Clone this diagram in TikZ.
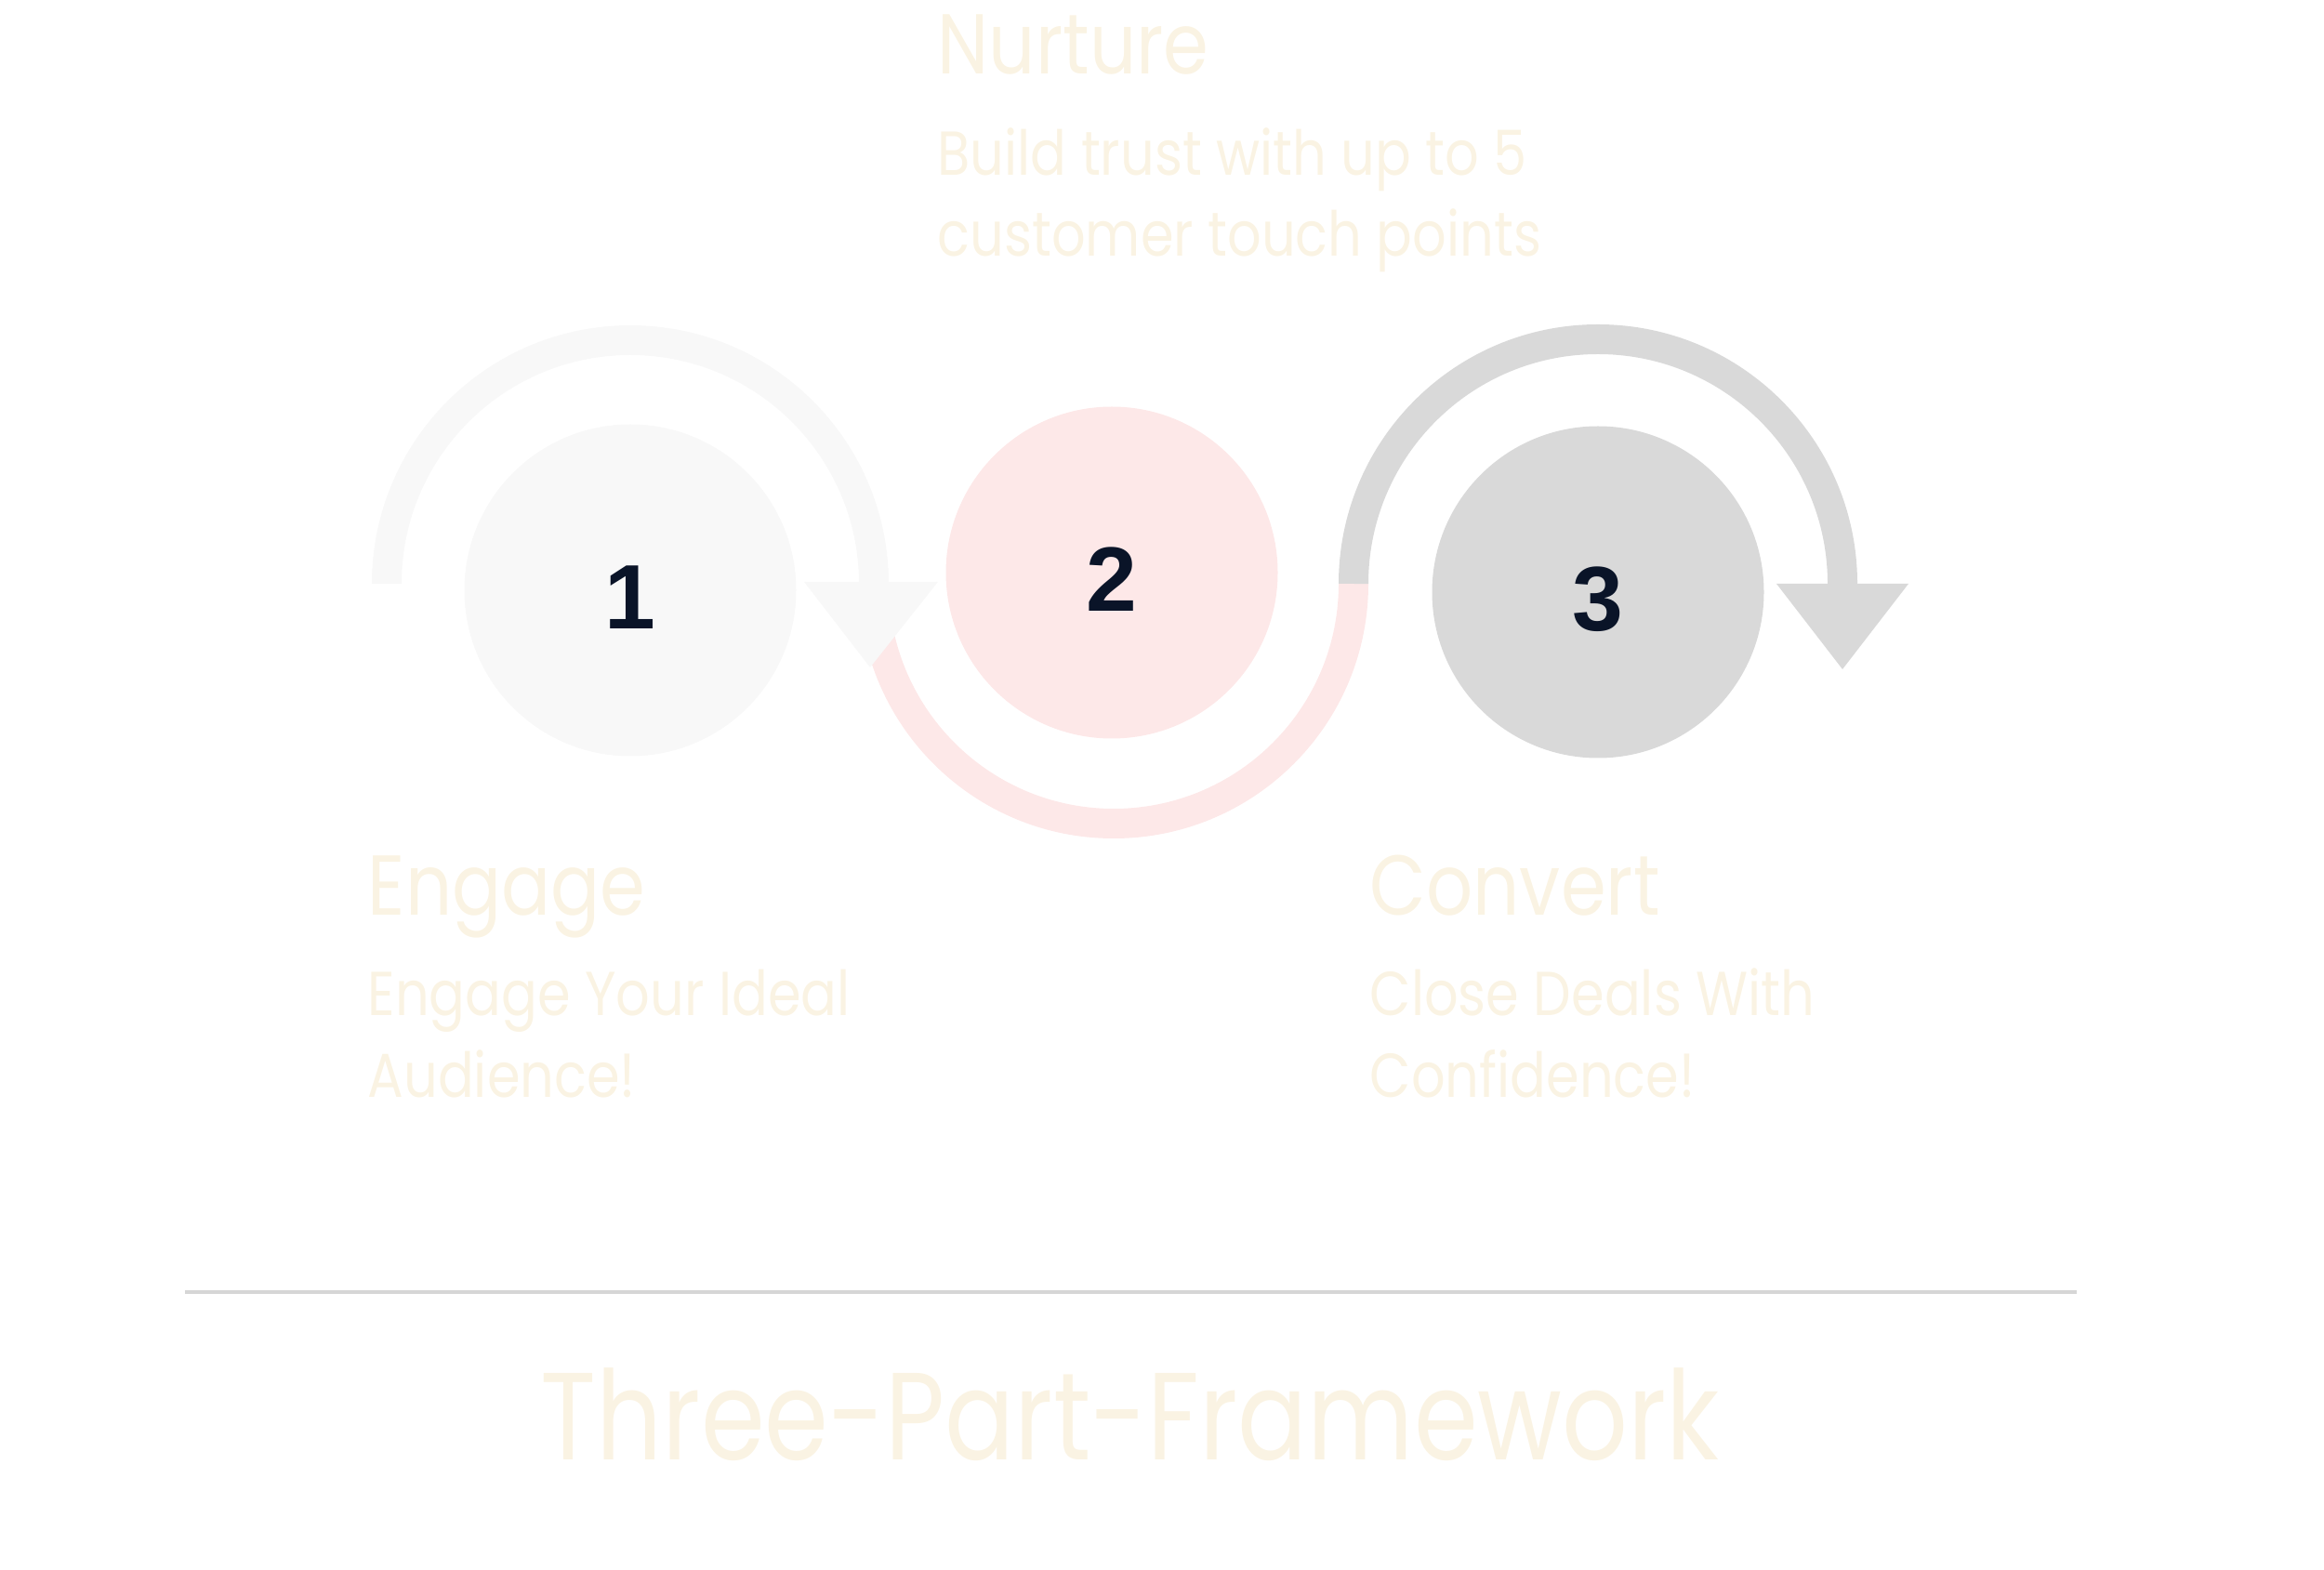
\documentclass[tikz,border=0pt]{standalone}
\usepackage{fontspec}
\setmainfont{Poppins}[FakeStretch=0.86]
\newfontfamily\bannerfont{Poppins}[FakeStretch=0.83]
\newfontfamily\numfont{Liberation Sans}
\usetikzlibrary{calc}
\definecolor{cream}{HTML}{FAF3E3}
\definecolor{engagegrey}{HTML}{F8F8F8}
\definecolor{nurturepink}{HTML}{FDE8E8}
\definecolor{convertgrey}{HTML}{D9D9D9}
\definecolor{numnavy}{HTML}{0A1428}
\definecolor{rulegrey}{HTML}{D6D6D6}

\begin{document}
\begin{tikzpicture}[
    disc/.style={circle, minimum size=3.57cm, inner sep=0pt, text height=0.83cm, text depth=0pt, text=numnavy, font=\numfont\bfseries\fontsize{28}{28}\selectfont},
    band/.style={line width=0.32cm},
    heading/.style={anchor=base west, inner sep=0pt, text=cream, font=\fontsize{26}{30}\selectfont},
    blurb/.style={anchor=base west, inner sep=0pt, text=cream, align=left, font=\fontsize{19}{25}\selectfont},
    banner/.style={anchor=base, inner sep=0pt, text=cream, font=\bannerfont\fontsize{38}{44}\selectfont}
  ]
  \useasboundingbox (0,0) rectangle (25,16.88);

  \coordinate (e0) at (4.16,10.60);
  \coordinate (e1) at (9.40,10.60);
  \coordinate (c0) at (14.56,10.60);
  \coordinate (c1) at (19.82,10.60);

  \draw[band, nurturepink] (e1) arc[start angle=180, end angle=360, radius=2.58] -- (c0);
  \draw[band, engagegrey] (e0) arc[start angle=180, end angle=0, radius=2.62];
  \fill[engagegrey] ($(e1)+(-0.75,0.02)$) -- ($(e1)+(0.69,0.02)$) -- ($(e1)+(-0.04,-0.90)$) -- cycle;
  \draw[band, convertgrey] (c0) arc[start angle=180, end angle=0, radius=2.63];
  \fill[convertgrey] ($(c1)+(-0.71,0)$) -- ($(c1)+(0.71,0)$) -- ($(c1)+(0,-0.92)$) -- cycle;

  \node[disc, fill=engagegrey] (one) at (6.78,10.53) {1};
  \node[disc, fill=nurturepink] (two) at (11.96,10.72) {2};
  \node[disc, fill=convertgrey] (three) at (17.19,10.51) {3};

  \node[heading] (nurture) at (10.08,16.08) {Nurture};
  \node[blurb] (nurturetxt) at (10.08,14.12) {Build trust with up to 5\\customer touch points};
  \node[heading] (engage) at (3.95,7.04) {Engage};
  \node[blurb] (engagetxt) at (3.95,5.08) {Engage Your Ideal\\Audience!};
  \node[heading] (convert) at (14.73,7.04) {Convert};
  \node[blurb] (converttxt) at (14.73,5.08) {Close Deals With\\Confidence!};

  \draw[rulegrey, line width=1.2pt] (1.99,2.98) -- (22.34,2.98);
  \node[banner] (title) at (12.16,1.18) {Three-Part-Framework};
\end{tikzpicture}
\end{document}
